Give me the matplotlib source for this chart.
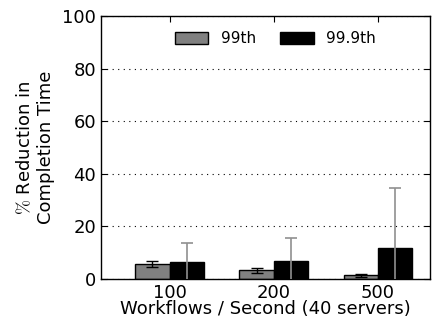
import matplotlib
matplotlib.use("Agg")
import matplotlib.pyplot as plt
import numpy as np

categories = ["100", "200", "500"]
p99 = [5.6, 3.3, 1.4]
p99_err = [1.2, 1.0, 0.5]
p999 = [6.6, 6.7, 11.8]
p999_err = [7.2, 9.0, 22.8]

plt.rcParams["mathtext.fontset"] = "cm"

fig = plt.figure(figsize=(4.37, 3.27), dpi=100)
ax = fig.add_axes([0.231, 0.147, 0.753, 0.804])

x = np.arange(len(categories))
w = 0.33
ax.bar(x - w / 2, p99, w, color="#808080", edgecolor="black", linewidth=1.0,
       label="99th", zorder=2)
ax.errorbar(x - w / 2, p99, yerr=p99_err, fmt="none", ecolor="black",
            elinewidth=1.0, capsize=4, capthick=1.0, zorder=3)
ax.bar(x + w / 2, p999, w, color="black", edgecolor="black", linewidth=1.0,
       label="99.9th", zorder=2)
ax.errorbar(x + w / 2, p999, yerr=p999_err, fmt="none", ecolor="#909090",
            elinewidth=1.2, capsize=4, capthick=1.2, zorder=3)

ax.set_xlim(-0.66, 2.5)
ax.set_ylim(0, 100)
ax.set_xticks(x)
ax.set_xticklabels(categories, fontsize=13)
ax.set_yticks([0, 20, 40, 60, 80, 100])
ax.tick_params(axis="y", labelsize=13)
ax.tick_params(direction="in", top=True, right=True, length=4)
ax.yaxis.grid(True, linestyle=(0, (1, 4)), color="black", linewidth=0.8)
ax.set_axisbelow(True)
for s in ax.spines.values():
    s.set_linewidth(1.0)

ax.set_xlabel("Workflows / Second (40 servers)", fontsize=13, labelpad=-1)
ax.set_ylabel("$\\%$ Reduction in\nCompletion Time", fontsize=13, labelpad=5)

ax.legend(loc="upper center", ncol=2, frameon=False, fontsize=11,
          handlelength=2.2, handleheight=0.8, columnspacing=1.6,
          bbox_to_anchor=(0.53, 0.995))

fig.savefig("out.png", dpi=100)
